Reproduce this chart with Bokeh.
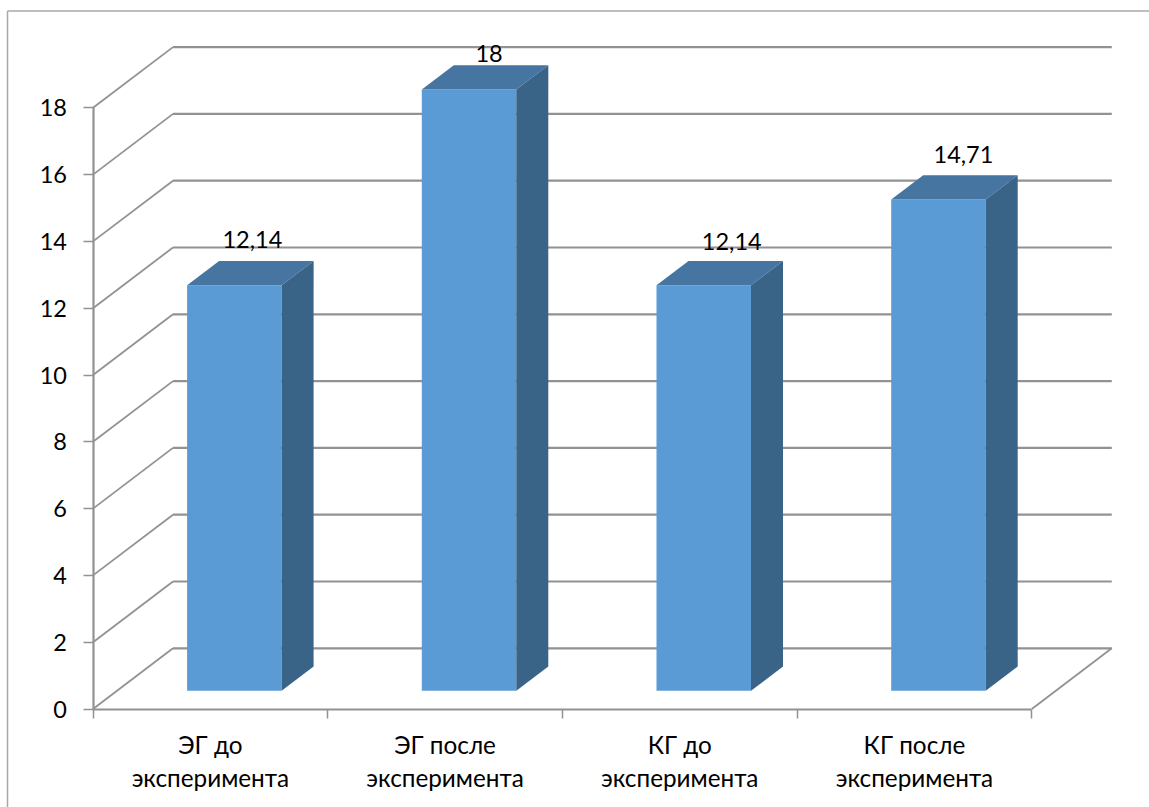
from bokeh.core.properties import value
from bokeh.embed import file_html
from bokeh.models import FixedTicker, LinearAxis, Range1d
from bokeh.plotting import figure
from bokeh.resources import INLINE

# Data
categories = ["ЭГ до\nэксперимента", "ЭГ после\nэксперимента", "КГ до\nэксперимента", "КГ после\nэксперимента"]
scores = [12.14, 18, 12.14, 14.71]
value_labels = ["12,14", "18", "12,14", "14,71"]
y_ticks = [0, 2, 4, 6, 8, 10, 12, 14, 16, 18]

# Canvas and scale geometry
WIDTH, HEIGHT = 1149, 807
ORIGIN_X, ORIGIN_Y = 92.5, 708.5
PX_PER_CAT, PX_PER_UNIT = 234.7, 33.4
FONT = "Lato"
FONT_SIZE = "23.5px"
CATEGORY_FONT_SIZE = "24.3px"
GRID = "#929292"


def cx(px):
    return (px - ORIGIN_X) / PX_PER_CAT


def vy(px):
    return (ORIGIN_Y - px) / PX_PER_UNIT


# Oblique depth of the plot box, in data units
DEPTH_X, DEPTH_Y = 80 / PX_PER_CAT, 60.7 / PX_PER_UNIT
# Bars occupy the middle of that depth
FRONT, BACK = 0.3, 0.7
BAR_WIDTH = 94.5 / PX_PER_CAT
BAR_SHIFT = 0.5 + FRONT * DEPTH_X

p = figure(
    width=WIDTH, height=HEIGHT, output_backend="svg", toolbar_location=None,
    x_range=Range1d(cx(0), cx(WIDTH)), y_range=Range1d(vy(HEIGHT), vy(0)),
    x_axis_type=None, y_axis_type=None, min_border=0,
    border_fill_color="white", background_fill_color="white", outline_line_color=None,
)
p.grid.visible = False

# Chart area border (top and left edges)
p.segment(x0=[cx(7), cx(7)], y0=[vy(10.5), vy(10.5)], x1=[cx(WIDTH), cx(7)], y1=[vy(10.5), vy(HEIGHT)],
          line_color="#a9a9a9", line_width=1.5)

# Back wall gridlines and the side wall diagonals
p.segment(x0=[DEPTH_X] * len(y_ticks), y0=[t + DEPTH_Y for t in y_ticks],
          x1=[4 + DEPTH_X] * len(y_ticks), y1=[t + DEPTH_Y for t in y_ticks],
          line_color=GRID, line_width=2.2)
p.segment(x0=[0] * len(y_ticks), y0=y_ticks,
          x1=[DEPTH_X] * len(y_ticks), y1=[t + DEPTH_Y for t in y_ticks],
          line_color=GRID, line_width=1.8)
# Right edge of the floor
p.segment(x0=[4], y0=[0], x1=[4 + DEPTH_X], y1=[DEPTH_Y], line_color=GRID, line_width=1.8)

# Bars: front face, top face and right face
centers = [i + BAR_SHIFT for i in range(len(scores))]
base = FRONT * DEPTH_Y
ddx = (BACK - FRONT) * DEPTH_X
ddy = (BACK - FRONT) * DEPTH_Y
half = BAR_WIDTH / 2

p.vbar(x=centers, width=BAR_WIDTH, bottom=base, top=[s + base for s in scores],
       fill_color="#5b9bd5", line_color=None)
p.patches(
    xs=[[c - half, c + half, c + half + ddx, c - half + ddx] for c in centers],
    ys=[[s + base, s + base, s + base + ddy, s + base + ddy] for s in scores],
    fill_color="#4675a1", line_color=None,
)
p.patches(
    xs=[[c + half, c + half + ddx, c + half + ddx, c + half] for c in centers],
    ys=[[base, base + ddy, s + base + ddy, s + base] for s in scores],
    fill_color="#396387", line_color=None,
)

# Value labels above the bars
label_dx = [18, 20, 28, 25]
label_dy = [-46, -36, -44, -45]
p.text(x=centers, y=[s + base for s in scores], text=value_labels,
       x_offset=label_dx, y_offset=label_dy,
       text_font=value(FONT), text_font_size=FONT_SIZE, text_color="#000000",
       text_align="center", text_baseline="middle")

# Value axis
y_axis = LinearAxis(
    fixed_location=0, bounds=(0, 18), ticker=FixedTicker(ticks=y_ticks),
    axis_line_color=GRID, axis_line_width=2.2,
    major_tick_line_color=GRID, major_tick_line_width=1.5, major_tick_in=0, major_tick_out=10,
    minor_tick_line_color=None, major_label_standoff=16,
    major_label_text_font=FONT, major_label_text_font_size=FONT_SIZE, major_label_text_color="#000000",
)
p.add_layout(y_axis, "left")

# Category axis: separators as minor ticks, labels at category centres
label_ticks = [i + 0.5 for i in range(len(categories))]
x_axis = LinearAxis(
    fixed_location=0, bounds=(0, 4),
    ticker=FixedTicker(ticks=label_ticks, minor_ticks=[0, 1, 2, 3, 4]),
    major_label_overrides=dict(zip(label_ticks, categories)),
    axis_line_color=GRID, axis_line_width=2.2,
    major_tick_line_color=None, major_tick_in=0, major_tick_out=0,
    minor_tick_line_color=GRID, minor_tick_line_width=1.5, minor_tick_in=0, minor_tick_out=9,
    major_label_standoff=12,
    major_label_text_font=FONT, major_label_text_font_size=CATEGORY_FONT_SIZE, major_label_text_color="#000000",
    major_label_text_line_height=1.15,
)
p.add_layout(x_axis, "below")

open("out.html", "w").write(file_html(p, INLINE))
